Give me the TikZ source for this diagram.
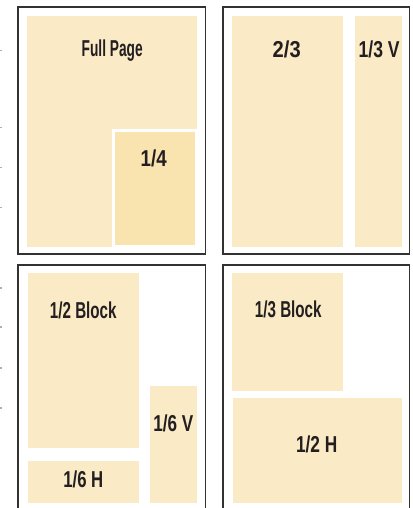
\documentclass[tikz,border=0pt]{standalone}
\usepackage{fontspec}
\usepackage{graphicx}
\newfontfamily\labfont{Liberation Sans}
\definecolor{cream}{RGB}{250,234,198}
\definecolor{creamdark}{RGB}{249,227,175}
\definecolor{framec}{RGB}{50,50,50}
\definecolor{tickc}{RGB}{175,175,175}
\definecolor{inkc}{RGB}{35,31,32}
\newcommand\fitlab[2]{\resizebox{#1pt}{\height}{#2}}
\begin{document}
\begin{tikzpicture}[x=1pt,y=-1pt,
  frame/.style={draw=framec,line width=1.1pt},
  box/.style={fill=cream,draw=none},
  lab/.style={font=\labfont\bfseries\fontsize{23}{26}\selectfont,text=inkc,anchor=base,inner sep=0pt},
  tick/.style={draw=tickc,line width=1.2pt}]
\useasboundingbox (0,0) rectangle (412,508);
\clip (0,0) rectangle (412,508);
\fill[white] (0,0) rectangle (412,508);
% faint ticks at left edge
\foreach \y in {50.7,127.5,167.5,207.5,288,327,368,408}
  \draw[tick] (0,\y) -- (2,\y);
% panel 1
\draw[frame] (18,7) rectangle (205.7,254);
\path[box] (27,16) rectangle (197,247);
\path[fill=creamdark,draw=white,line width=2.5pt] (113.25,130.25) rectangle (195.75,245.75);
\node[lab] (fp) at (112.2,57) {\fitlab{61}{Full Page}};
\node[lab] (q) at (153.7,166) {\fitlab{26}{1/4}};
% panel 2
\draw[frame] (223,7) rectangle (409.3,254);
\path[box] (231.7,16) rectangle (342.7,247);
\path[box] (355,16) rectangle (401.7,247);
\node[lab] (tt) at (286.7,57.5) {\fitlab{28}{2/3}};
\node[lab] (tv) at (379.2,57.5) {\fitlab{41}{1/3 V}};
% panel 3
\draw[frame] (18,265) rectangle (205.7,530);
\path[box] (28,272.7) rectangle (138.7,447.7);
\path[box] (28,461) rectangle (138.7,502.7);
\path[box] (150,386) rectangle (196.7,502.7);
\node[lab] (hb) at (83.3,318.5) {\fitlab{66.7}{1/2 Block}};
\node[lab] (sh) at (83.3,487.5) {\fitlab{40}{1/6 H}};
\node[lab] (sv) at (173.3,431.5) {\fitlab{40}{1/6 V}};
% panel 4
\draw[frame] (223,265) rectangle (409.3,530);
\path[box] (232,272.7) rectangle (342.7,390.7);
\path[box] (233,398.3) rectangle (401.7,502.7);
\node[lab] (tb) at (288.3,317.5) {\fitlab{66.7}{1/3 Block}};
\node[lab] (hh) at (316.7,452.5) {\fitlab{41.3}{1/2 H}};
\end{tikzpicture}
\end{document}
